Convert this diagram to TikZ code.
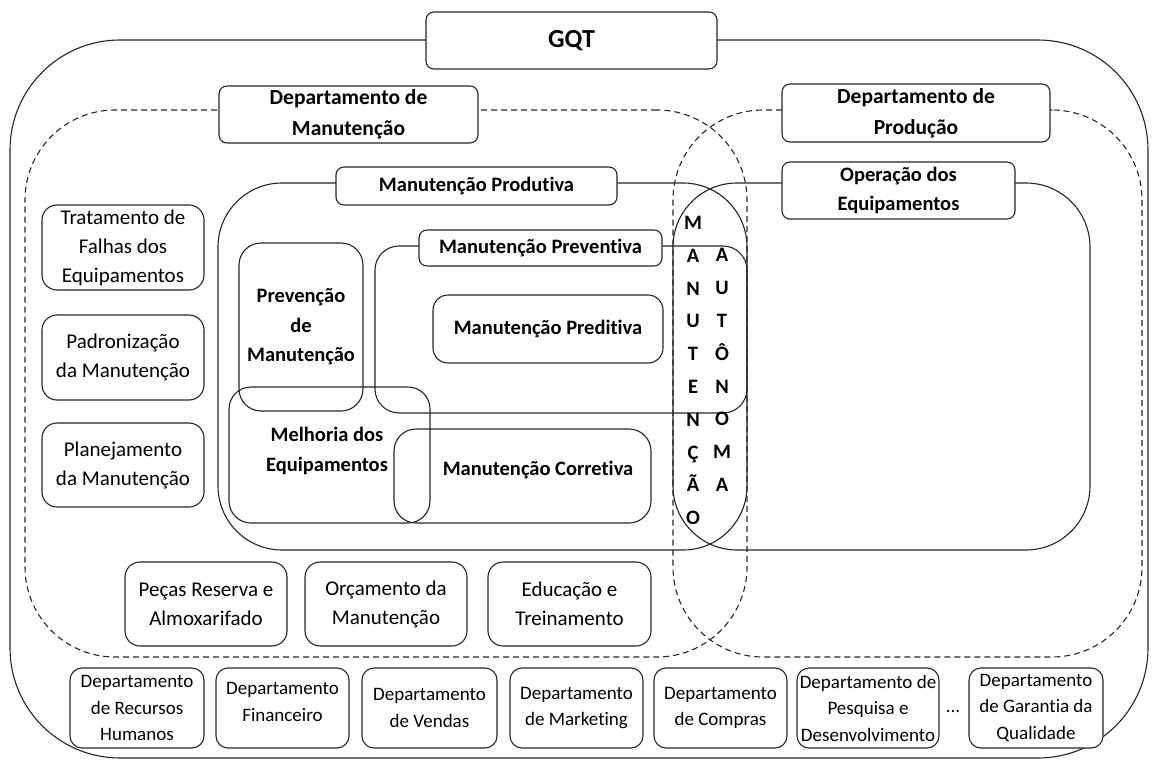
\documentclass[tikz,border=0pt]{standalone}
\usepackage{fontspec}
\setmainfont{Carlito}[Ligatures=NoCommon]
\begin{document}
\begin{tikzpicture}[x=1pt,y=-1pt,
  ln/.style={draw=black!85, line width=1.1pt},
  region/.style={ln, rectangle, inner sep=0pt, outer sep=0pt, align=center},
  dashregion/.style={region, dash pattern=on 6pt off 4pt},
  boldtxt/.style={font=\bfseries\fontsize{20.5}{29.5}\selectfont},
  tag/.style={ln, fill=white, rectangle, rounded corners=8pt, inner sep=0pt, outer sep=0pt, align=center, boldtxt},
  bigtag/.style={tag, font=\bfseries\fontsize{21.5}{31}\selectfont},
  side/.style={ln, fill=white, rectangle, rounded corners=15pt, inner sep=0pt, align=center, font=\fontsize{21}{29}\selectfont},
  dept/.style={ln, fill=white, rectangle, rounded corners=12pt, inner sep=0pt, align=center, font=\fontsize{19}{26.5}\selectfont},
  sz/.style 2 args={minimum width=#1pt, minimum height=#2pt},
]
\useasboundingbox (0,0) rectangle (1154,760);

% overall GQT frame
\node[region, rounded corners=110pt, sz={1138}{718}] (gqtframe) at (579,399) {};

% department areas (dashed)
\node[dashregion, rounded corners=90pt, sz={722}{547}] (manarea) at (386,383.5) {};
\node[dashregion, rounded corners=90pt, sz={469}{547}] (prodarea) at (907.5,383.5) {};

% productive maintenance and equipment operation
\node[region, rounded corners=64pt, sz={529}{367}] (mparea) at (482.5,366.5) {};
\node[region, rounded corners=64pt, sz={417}{367}] (oparea) at (881.5,366.5) {};

% preventive maintenance and its neighbours
\node[region, rounded corners=24pt, sz={372}{167}] (mpvarea) at (561,329.5) {};
\node[region, rounded corners=22pt, sz={124}{168}, boldtxt] (prevencao) at (301,327) {Prevenção\\de\\Manutenção};
\node[region, rounded corners=22pt, sz={201}{136}] (melhoria) at (329.5,455) {};
\node[boldtxt, align=center] (melhoriatxt) at (327,451) {Melhoria dos\\Equipamentos};
\node[region, rounded corners=22pt, sz={257}{94}] (corretiva) at (522.5,476) {};
\node[boldtxt] (corretivatxt) at (538,470) {Manutenção Corretiva};
\node[region, rounded corners=15pt, sz={230}{68}, boldtxt] (preditiva) at (548,329) {Manutenção Preditiva};

% title tags sitting on the frame lines
\node[tag, sz={291}{57}, font=\bfseries\fontsize{26}{30}\selectfont] (gqt) at (571.5,40.5) {GQT};
\node[bigtag, sz={259}{57}] (deptman) at (348.5,114.5) {Departamento de\\Manutenção};
\node[bigtag, sz={268}{58}] (deptprod) at (916,113) {Departamento de\\Produção};
\node[tag, sz={281}{38}] (mp) at (476.5,186) {Manutenção Produtiva};
\node[tag, sz={233}{57}] (op) at (898.5,190.5) {Operação dos\\Equipamentos};
\node[tag, sz={243}{36}] (mpv) at (540.5,248) {Manutenção Preventiva};

% autonomous maintenance, written vertically
\node[align=center, font=\bfseries\fontsize{20.5}{32.8}\selectfont] (colman) at (693,370.5)
  {M\\A\\N\\U\\T\\E\\N\\Ç\\Ã\\O};
\node[align=center, font=\bfseries\fontsize{20.5}{32.8}\selectfont] (colauto) at (722,370)
  {A\\U\\T\\Ô\\N\\O\\M\\A};

% maintenance support activities
\node[side, sz={162}{85}] (tratamento) at (123,247.5) {Tratamento de\\Falhas dos\\Equipamentos};
\node[side, sz={162}{85}] (padronizacao) at (123,357.5) {Padronização\\da Manutenção};
\node[side, sz={162}{84}] (planejamento) at (123,465) {Planejamento\\da Manutenção};
\node[side, sz={162}{84}] (pecas) at (206,604) {Peças Reserva e\\Almoxarifado};
\node[side, sz={162}{84}] (orcamento) at (386,604) {Orçamento da\\Manutenção};
\node[side, sz={163}{84}] (educacao) at (569.5,604) {Educação e\\Treinamento};

% other departments
\node[dept, sz={134}{80}] (rh) at (137,708) {Departamento\\de Recursos\\Humanos};
\node[dept, sz={133}{80}] (fin) at (282.5,708) {};
\node[align=center, font=\fontsize{19}{26.5}\selectfont] (fintxt) at (282.5,702) {Departamento\\Financeiro};
\node[dept, sz={135}{80}] (vendas) at (429.5,708) {Departamento\\de Vendas};
\node[dept, sz={133}{80}] (mkt) at (576.5,708) {Departamento\\de Marketing};
\node[dept, sz={133}{80}] (compras) at (720.5,708) {Departamento\\de Compras};
\node[dept, sz={142}{80}] (pd) at (868,708) {Departamento de\\Pesquisa e\\Desenvolvimento};
\node[font=\fontsize{19}{26.5}\selectfont] (dots) at (953,711) {...};
\node[dept, sz={134}{80}] (qual) at (1036,708) {Departamento\\de Garantia da\\Qualidade};
\end{tikzpicture}
\end{document}
